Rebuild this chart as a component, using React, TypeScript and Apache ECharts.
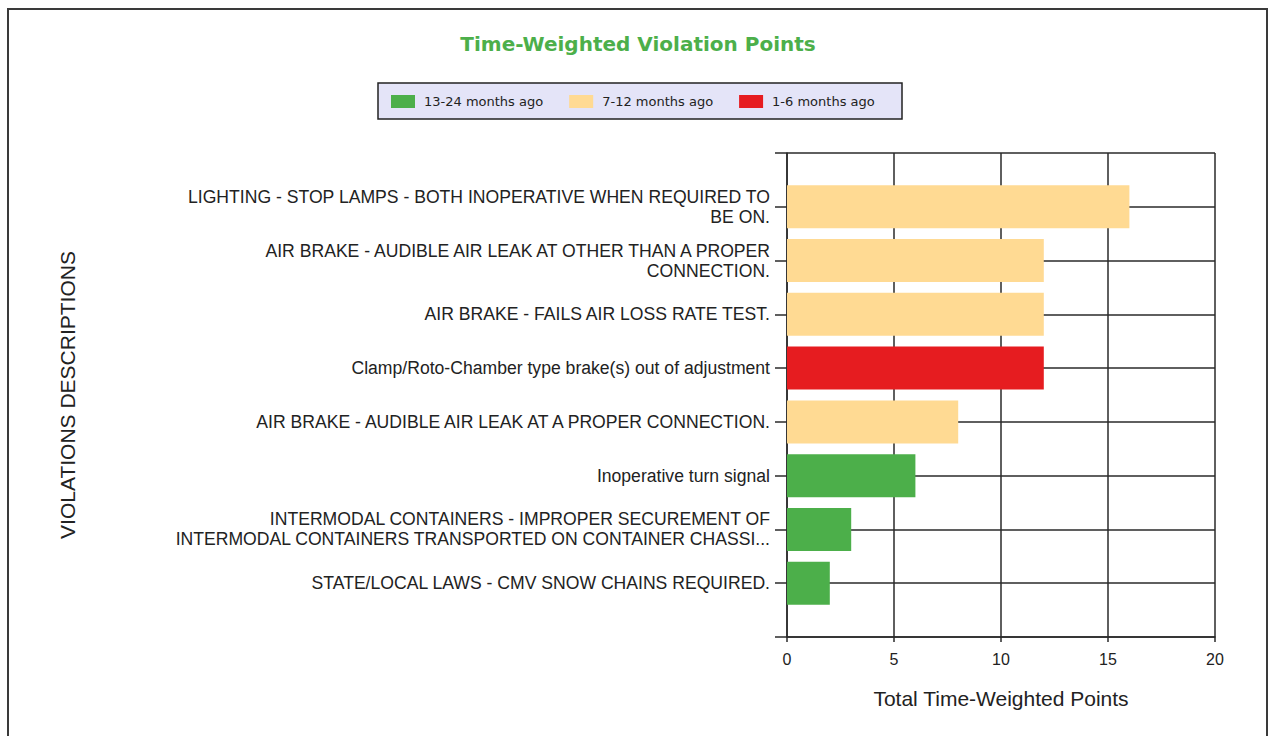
import React, { useEffect, useRef } from "react";
import * as echarts from "echarts";

const titleText = "Time-Weighted Violation Points";
const categories = [
  "LIGHTING - STOP LAMPS - BOTH INOPERATIVE WHEN REQUIRED TO\nBE ON.",
  "AIR BRAKE - AUDIBLE AIR LEAK AT OTHER THAN A PROPER\nCONNECTION.",
  "AIR BRAKE - FAILS AIR LOSS RATE TEST.",
  "Clamp/Roto-Chamber type brake(s) out of adjustment",
  "AIR BRAKE - AUDIBLE AIR LEAK AT A PROPER CONNECTION.",
  "Inoperative turn signal",
  "INTERMODAL CONTAINERS - IMPROPER SECUREMENT OF\nINTERMODAL CONTAINERS TRANSPORTED ON CONTAINER CHASSI...",
  "STATE/LOCAL LAWS - CMV SNOW CHAINS REQUIRED.",
];
const seriesNames = ["13-24 months ago", "7-12 months ago", "1-6 months ago"];
const months13to24 = [null, null, null, null, null, 6, 3, 2];
const months7to12 = [16, 12, 12, null, 8, null, null, null];
const months1to6 = [null, null, null, 12, null, null, null, null];
const seriesColors = ["#4caf4a", "#ffda93", "#e61c20"];
const xTicks = { min: 0, max: 20, interval: 5 };
const xAxisName = "Total Time-Weighted Points";
const yAxisName = "VIOLATIONS DESCRIPTIONS";

export default function App() {
  const ref = useRef<HTMLDivElement>(null);
  useEffect(() => {
    if (!ref.current) return;
    const chart = echarts.init(ref.current, null, { renderer: "svg" });
    const pad = (arr: (number | null)[]) => ["-", ...arr.map((v) => (v == null ? "-" : v)), "-"];
    const cats = ["", ...categories, ""];
    const lineColor = "#2a2a2a";
    const dataSets = [months13to24, months7to12, months1to6];
    chart.setOption({
      animation: false,
      backgroundColor: "#ffffff",
      title: {
        text: titleText,
        left: "center",
        top: 34,
        padding: 0,
        textStyle: {
          color: "#4caf4a",
          fontFamily: "DejaVu Sans",
          fontWeight: "bold",
          fontSize: 20,
        },
      },
      graphic: [
        {
          type: "rect",
          z: 0,
          shape: { x: 8, y: 9, width: 1259, height: 760 },
          style: { fill: "none", stroke: "#3a3a3a", lineWidth: 2 },
        },
        {
          type: "rect",
          z: 0,
          shape: { x: 378, y: 83, width: 524, height: 36 },
          style: { fill: "#e4e4f8", stroke: "#222", lineWidth: 1.5 },
        },
      ],
      legend: {
        left: 391,
        top: 95,
        padding: 0,
        itemWidth: 24,
        itemHeight: 13,
        itemGap: 26,
        icon: "rect",
        data: seriesNames,
        textStyle: {
          color: "#222",
          fontFamily: "DejaVu Sans",
          fontSize: 13,
          padding: [0, 0, 0, 4],
        },
      },
      grid: { left: 787, right: 61, top: 153, bottom: 99 },
      xAxis: {
        type: "value",
        min: xTicks.min,
        max: xTicks.max,
        interval: xTicks.interval,
        name: xAxisName,
        nameLocation: "middle",
        nameGap: 51,
        nameTextStyle: { color: "#222", fontSize: 21, fontFamily: "Liberation Sans" },
        axisLine: { show: true, lineStyle: { color: lineColor, width: 1.5 } },
        axisTick: { show: true, length: 5, lineStyle: { color: lineColor, width: 1.5 } },
        axisLabel: { color: "#222", fontSize: 16, fontFamily: "Liberation Sans", margin: 14 },
        splitLine: { show: true, lineStyle: { color: lineColor, width: 1.5 } },
      },
      yAxis: {
        type: "category",
        inverse: true,
        boundaryGap: false,
        data: cats,
        name: yAxisName,
        nameLocation: "middle",
        nameGap: 709,
        nameRotate: 90,
        nameTextStyle: { color: "#222", fontSize: 21, fontFamily: "Liberation Sans" },
        axisLine: { show: true, lineStyle: { color: lineColor, width: 1.5 } },
        axisTick: { show: true, length: 12, lineStyle: { color: lineColor, width: 1.5 } },
        axisLabel: {
          color: "#222",
          fontSize: 17.6,
          lineHeight: 20,
          fontFamily: "Liberation Sans",
          margin: 17,
          interval: 0,
        },
        splitLine: { show: true, lineStyle: { color: lineColor, width: 1.5 } },
      },
      series: seriesNames.map((name, i) => ({
        name,
        type: "bar",
        stack: "total",
        barWidth: 43,
        itemStyle: { color: seriesColors[i] },
        data: pad(dataSets[i]),
      })),
    });
    return () => chart.dispose();
  }, []);
  return (
    <div
      ref={ref}
      style={{ position: "fixed", left: 0, top: 0, width: 1276, height: 736 }}
    />
  );
}
